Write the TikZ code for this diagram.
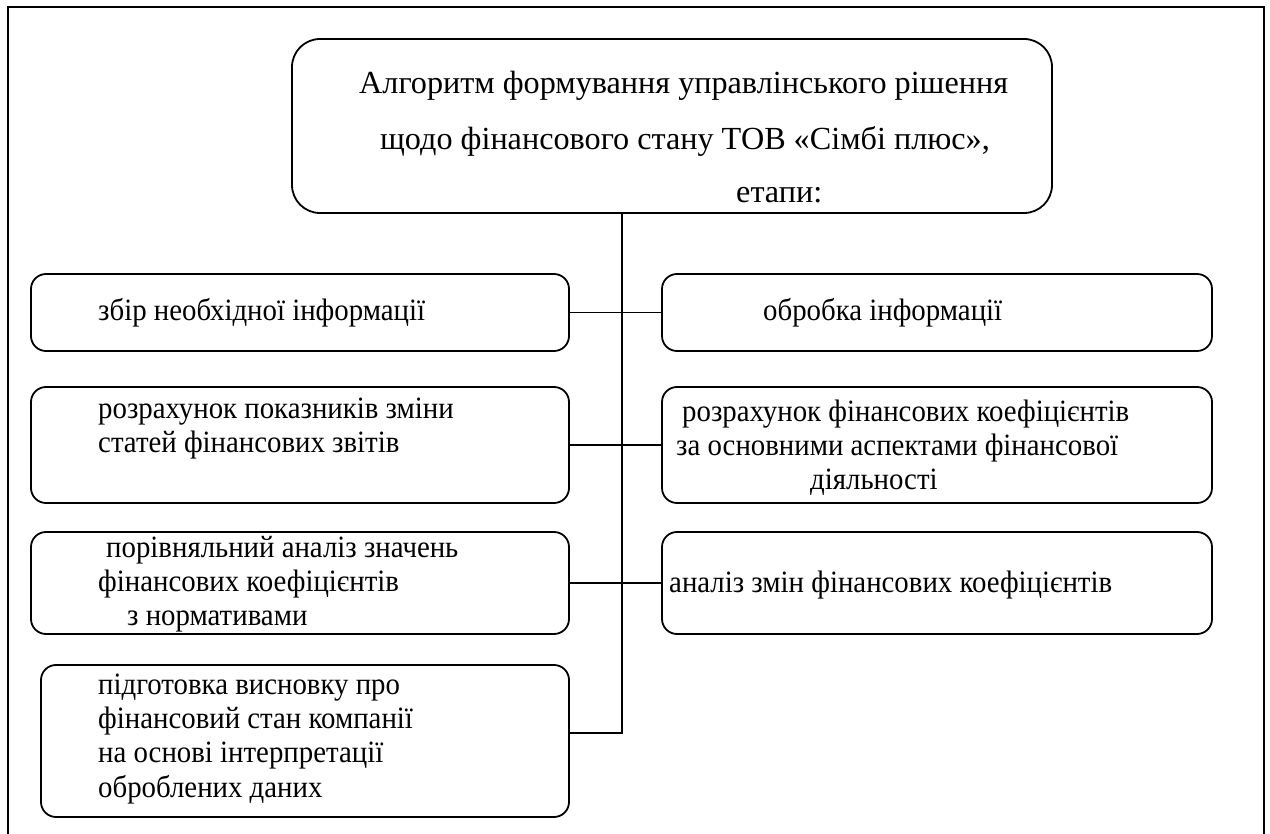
\documentclass[tikz,border=0pt]{standalone}
\usepackage{fontspec}
\setmainfont{Liberation Serif}
\newfontfamily\bodyfont[FakeStretch=0.93]{Liberation Serif}
\begin{document}
\begin{tikzpicture}[x=1pt,y=-1pt,
  box/.style={draw,line width=1.8pt,rounded corners=15pt,inner sep=0pt},
  topbox/.style={draw,line width=1.8pt,rounded corners=28pt,inner sep=0pt},
  txt/.style={anchor=base west,inner sep=0pt,font=\bodyfont\fontsize{31}{36}\selectfont},
  ttxt/.style={anchor=base west,inner sep=0pt,font=\fontsize{32.2}{40}\selectfont},
  conn/.style={line width=1.6pt}]
\useasboundingbox (0,0) rectangle (1270,834);
\draw[line width=1.5pt] (8,840) -- (8,7) -- (1264,7) -- (1264,840);
% boxes
\node[topbox,minimum width=760pt,minimum height=174pt] (top) at (672,126) {};
\node[box,minimum width=538pt,minimum height=77pt] (l1) at (300,312.5) {};
\node[box,minimum width=538pt,minimum height=116pt] (l2) at (300,445) {};
\node[box,minimum width=538pt,minimum height=102pt] (l3) at (300,583) {};
\node[box,minimum width=528pt,minimum height=152pt] (l4) at (305,741) {};
\node[box,minimum width=550pt,minimum height=77pt] (r1) at (937,312.5) {};
\node[box,minimum width=550pt,minimum height=116pt] (r2) at (937,445) {};
\node[box,minimum width=550pt,minimum height=102pt] (r3) at (937,583) {};
% texts
\node[ttxt] (t1) at (359,94) {Алгоритм формування управлінського рішення};
\node[ttxt] (t2) at (380,150) {щодо фінансового стану ТОВ «Сімбі плюс»,};
\node[ttxt] (t3) at (736,203) {етапи:};
\node[txt] (a1) at (98,321) {збір необхідної інформації};
\node[txt] (b1) at (98,418) {розрахунок показників зміни};
\node[txt] (b2) at (98,453) {статей фінансових звітів};
\node[txt] (c1) at (106,557) {порівняльний аналіз значень};
\node[txt] (c2) at (98,591) {фінансових коефіцієнтів};
\node[txt] (c3) at (127,625) {з нормативами};
\node[txt] (d1) at (98,694) {підготовка висновку про};
\node[txt] (d2) at (98,728) {фінансовий стан компанії};
\node[txt] (d3) at (98,762) {на основі інтерпретації};
\node[txt] (d4) at (98,797) {оброблених даних};
\node[txt] (e1) at (763,321) {обробка інформації};
\node[txt] (f1) at (682,421) {розрахунок фінансових коефіцієнтів};
\node[txt] (f2) at (676,455) {за основними аспектами фінансової};
\node[txt] (f3) at (810,489) {діяльності};
\node[txt] (g1) at (669,592) {аналіз змін фінансових коефіцієнтів};
% connectors
\coordinate (s) at (622,733);
\draw[conn] (top.south -| s) -- (s) -- (s -| l4.east);
\draw[conn] (l1.east) -- (r1.west);
\draw[conn] (l2.east) -- (r2.west);
\draw[conn] (l3.east) -- (r3.west);
\end{tikzpicture}
\end{document}
